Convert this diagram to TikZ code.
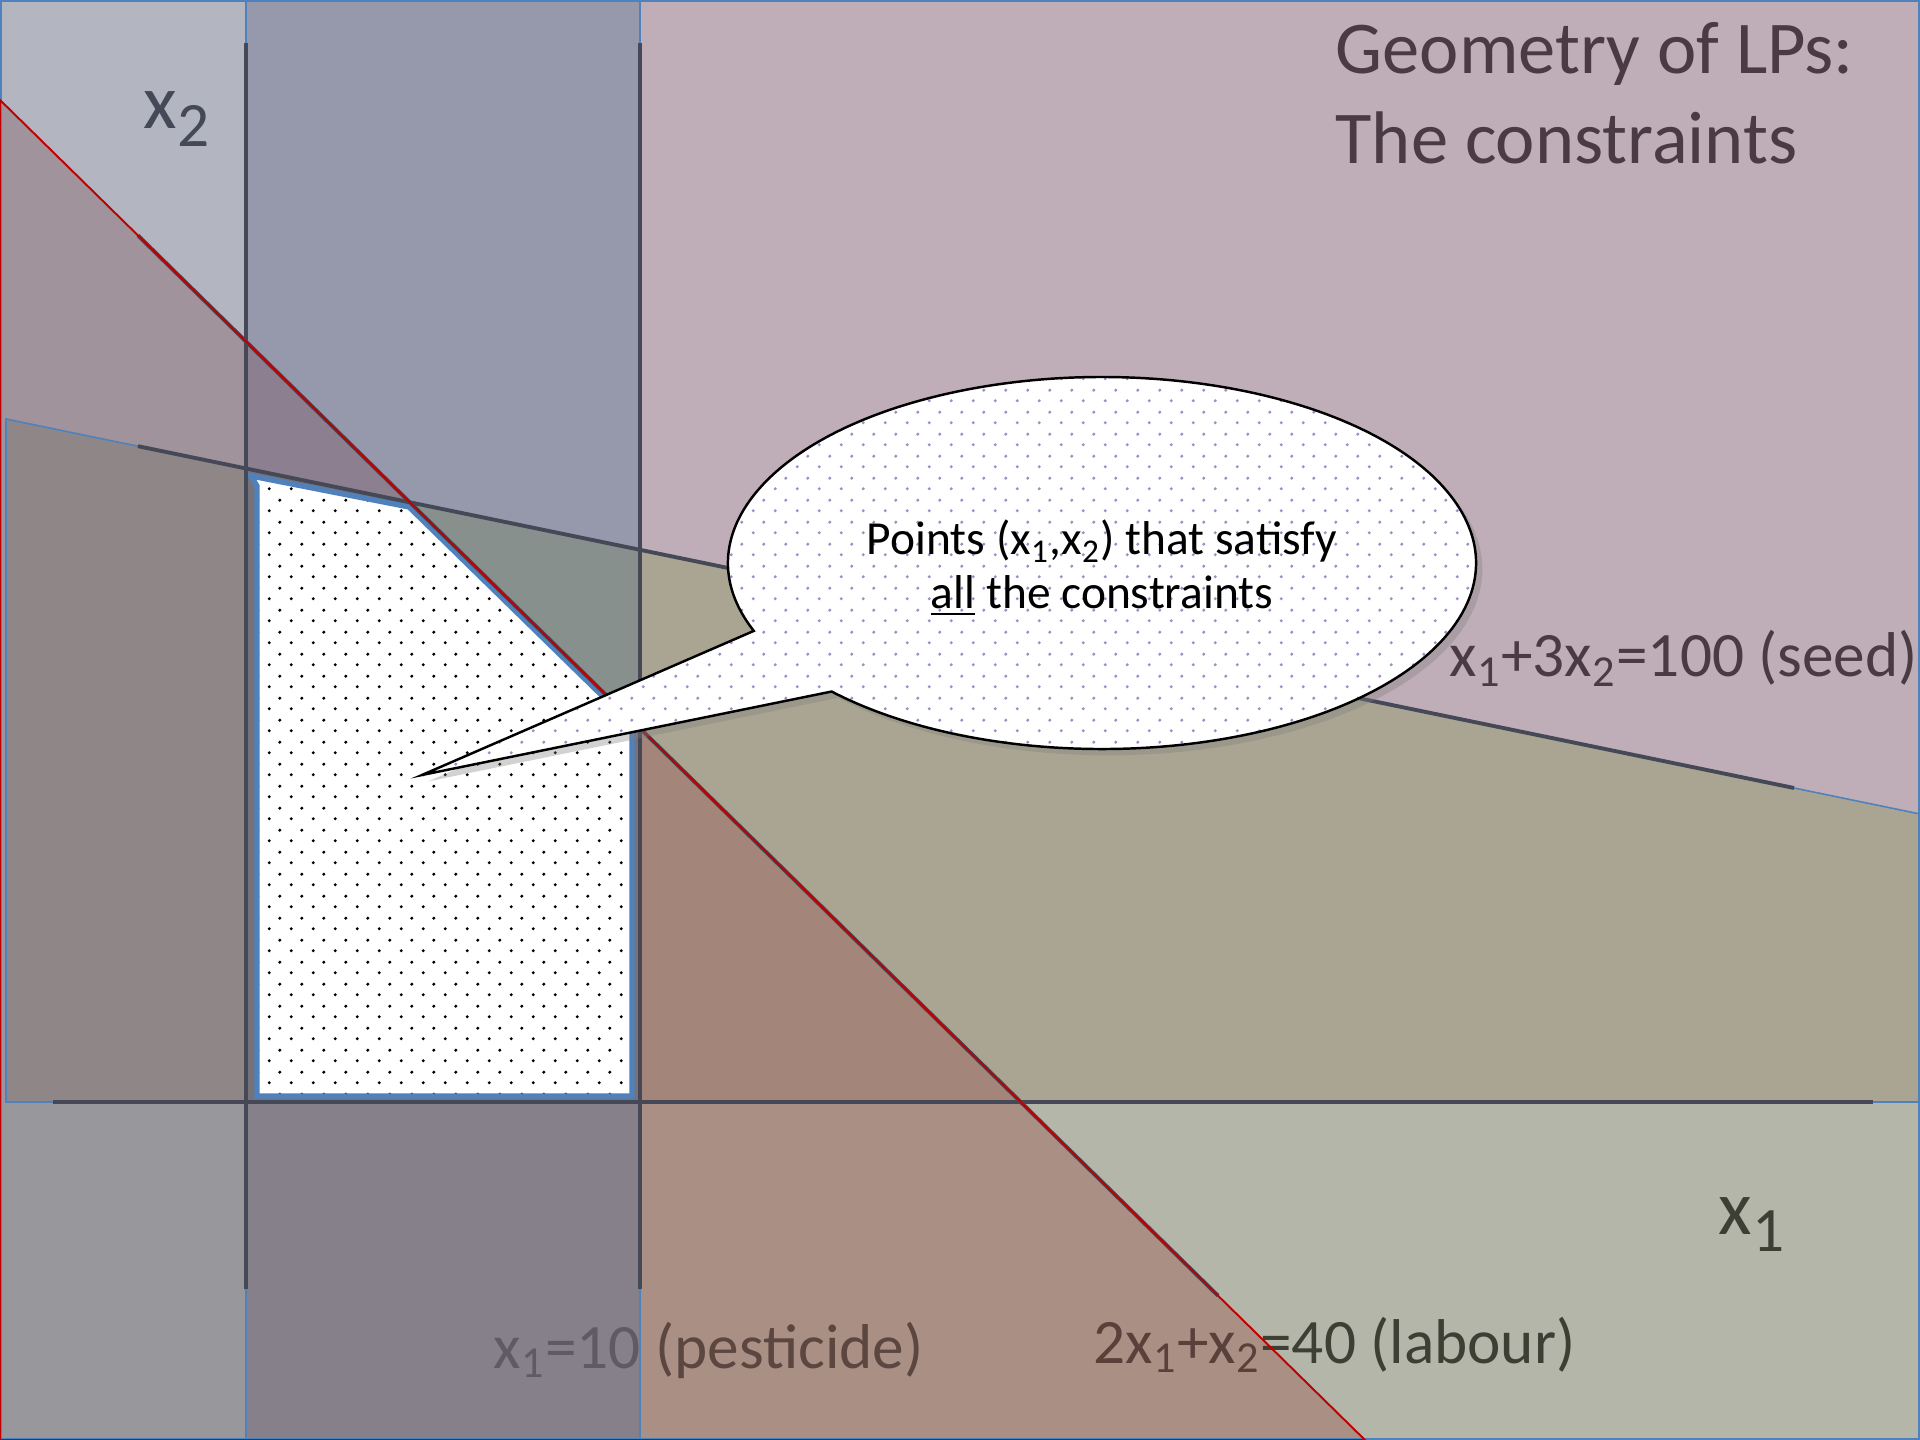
\documentclass[tikz,border=0pt]{standalone}
\usepackage{fontspec}
\setmainfont{Carlito}
\usetikzlibrary{patterns.meta, shadows, calc}

\definecolor{cL1}{HTML}{B3B6C0}
\definecolor{cL4}{HTML}{A0939B}
\definecolor{cL6}{HTML}{8F8787}
\definecolor{cL11}{HTML}{98979B}
\definecolor{cP2}{HTML}{9698AC}
\definecolor{cP5}{HTML}{8C7F8F}
\definecolor{cP7}{HTML}{77727A}
\definecolor{cP8}{HTML}{87908D}
\definecolor{cP12}{HTML}{858089}
\definecolor{cR3}{HTML}{BFAEB7}
\definecolor{cR9}{HTML}{AAA592}
\definecolor{cR10}{HTML}{A38579}
\definecolor{cR13}{HTML}{AA8F85}
\definecolor{cR14}{HTML}{B3B6A9}
\definecolor{lineblue}{HTML}{4F81BD}
\definecolor{linered}{HTML}{C00000}
\definecolor{axisdark}{HTML}{454857}
\definecolor{bubbledot}{HTML}{9E90C4}
\definecolor{plum}{HTML}{4A3A44}
\definecolor{pestA}{HTML}{5F5B66}
\definecolor{pestB}{HTML}{5B4640}
\definecolor{labA}{HTML}{5A403A}
\definecolor{labB}{HTML}{3D3F35}

\tikzdeclarepattern{
  name=stagdots, type=uncolored,
  bottom left={(0pt,0pt)}, top right={(6.26pt,6.26pt)},
  tile size={(6.26pt,6.26pt)},
  code={
    \fill (1.565pt,1.565pt) circle [radius=0.5pt];
    \fill (4.695pt,4.695pt) circle [radius=0.5pt];
  }
}

\newcommand{\axsub}[1]{\raisebox{-5pt}{\fontsize{18}{18}\selectfont #1}}

\begin{document}
\begin{tikzpicture}[
    x=0.1mm, y=-0.1mm,
    font=\fontsize{18}{21.6}\selectfont,
    lbltext/.style={inner sep=0pt, anchor=base west},
    axislabel/.style={lbltext, font=\fontsize{22}{26}\selectfont},
    headline/.style={inner sep=0pt, anchor=north west, align=left, text=plum, font=\fontsize{21.2}{25.6}\selectfont},
    axisline/.style={draw=axisdark, line width=1.1pt},
    thinblue/.style={draw=lineblue, line width=0.45pt},
    thinred/.style={draw=linered, line width=0.55pt},
    feasible/.style={preaction={fill=white}, pattern=stagdots, pattern color=black, draw=lineblue, line width=1.5pt},
    bubble/.style={drop shadow={shadow xshift=1.8pt, shadow yshift=-1.8pt, opacity=0.35}, preaction={fill=white}, pattern=stagdots, pattern color=bubbledot, draw=black, line width=0.7pt},
    bubtext/.style={align=center, inner sep=0pt, font=\fontsize{13.5}{15.4}\selectfont}
]
    \useasboundingbox (0,0) rectangle (1920,1440);

    % --- 交点 ---
    \coordinate (labTop) at (0,100);
    \coordinate (labBot) at (1365,1440);
    \coordinate (seedL) at (6,419);
    \coordinate (seedR) at (1920,814);
    \coordinate (labV1) at (246,341.5);
    \coordinate (labV2) at (640,728.3);
    \coordinate (labAx) at (1020.7,1102);
    \coordinate (labSeed) at (410,502.5);
    \coordinate (seedV1) at (246,468.5);
    \coordinate (seedV2) at (640,549.9);

    % --- 区域 ---
    \fill[cL1] (0,0) -- (246,0) -- (labV1) -- (labTop) -- cycle;
    \fill[cL4] (labTop) -- (labV1) -- (seedV1) -- (seedL) -- (6,1102) -- (0,1102) -- cycle;
    \fill[cL6] (seedL) -- (seedV1) -- (246,1102) -- (6,1102) -- cycle;
    \fill[cL11] (0,1102) rectangle (246,1440);
    \fill[cP2] (246,0) -- (640,0) -- (seedV2) -- (labSeed) -- (labV1) -- cycle;
    \fill[cP5] (labV1) -- (labSeed) -- (seedV1) -- cycle;
    \fill[cP8] (labSeed) -- (seedV2) -- (labV2) -- cycle;
    \fill[cP7] (seedV1) -- (labSeed) -- (labV2) -- (640,1102) -- (246,1102) -- cycle;
    \fill[cP12] (246,1102) rectangle (640,1440);
    \fill[cR3] (640,0) -- (1920,0) -- (seedR) -- (seedV2) -- cycle;
    \fill[cR9] (seedV2) -- (seedR) -- (1920,1102) -- (labAx) -- (labV2) -- cycle;
    \fill[cR10] (labV2) -- (labAx) -- (640,1102) -- cycle;
    \fill[cR13] (640,1102) -- (labAx) -- (labBot) -- (640,1440) -- cycle;
    \fill[cR14] (labAx) -- (1920,1102) -- (1920,1440) -- (labBot) -- cycle;

    % 可行域
    \path[feasible] (251,476) -- (409,507) -- (632,725) -- (632,1096) -- (257,1096) -- (257,486) -- cycle;

    % --- 文字 ---
    \node[headline] (ttl) at (1335,22) {Geometry of LPs:\\The constraints};
    \node[axislabel, text=axisdark] (x2lbl) at (143,129) {x\axsub{2}};
    \node[axislabel, text=labB] (x1lbl) at (1718,1234) {x\axsub{1}};
    \node[lbltext, text=plum] (seedlbl) at (1449,677) {x\textsubscript{1}+3x\textsubscript{2}=100 (seed)};
    \node[lbltext] (lablbl) at (1093,1363) {\color{labA}2x\textsubscript{1}+x\textsubscript{2}\color{labB}=40 (labour)};
    \node[lbltext] (pestlbl) at (493,1368) {\color{pestA}x\textsubscript{1}=10 \color{pestB}(pesticide)};

    % --- 坐标轴与约束线 ---
    \draw[thinblue] (246,0) -- (246,1440);
    \draw[thinblue] (640,0) -- (640,1440);
    \draw[thinblue] (seedL) -- (seedR) -- (1920,1102) -- (6,1102) -- cycle;
    \draw[thinblue] (0.8,0.8) rectangle (1919.2,1439.2);

    \draw[axisline] (246,43) -- (246,1289);
    \draw[axisline] (640,43) -- (640,1289);
    \draw[axisline] (53,1102) -- (1873,1102);
    \draw[axisline] (138,235.5) -- (1218,1295.7);
    \draw[axisline] (138,446.2) -- (1794,788);

    \draw[thinred] (labTop) -- (labBot) -- (0,1440) -- cycle;

    % --- 气泡 ---
    \coordinate (bubA) at (753.8,630.9);
    \coordinate (bubTip) at (422,775);
    \path[bubble] (bubA) arc[start angle=158.6, end angle=496.3, x radius=374, y radius=186] -- (bubTip) -- cycle;
    \node[bubtext] (bubtxt) at (1102,568) {Points (x\textsubscript{1},x\textsubscript{2}) that satisfy\\\underline{all} the constraints};

\end{tikzpicture}
\end{document}
